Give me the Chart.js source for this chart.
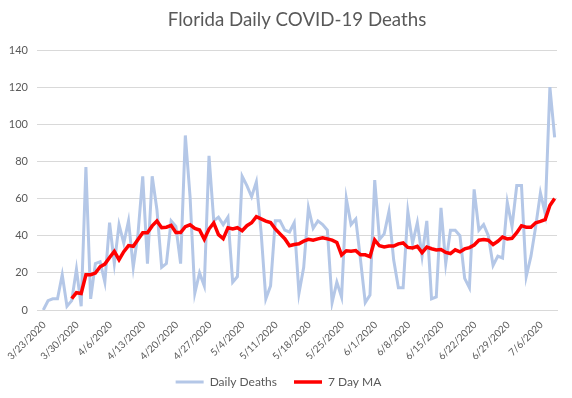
<!DOCTYPE html>
<html>
<head>
	<meta charset="UTF-8" />
	<script src="https://cdn.jsdelivr.net/npm/chart.js@4.4.0/dist/chart.umd.min.js"></script>
	<style>body { margin: 0; background: #fff; }</style>
</head>
<body>
	<canvas id="myChart" width="572" height="398"></canvas>
	<script>
// one tick label every 7 days, starting 3/23/2020
const tickLabels = ["3/23/2020", "3/30/2020", "4/6/2020", "4/13/2020", "4/20/2020", "4/27/2020", "5/4/2020", "5/11/2020",
	"5/18/2020", "5/25/2020", "6/1/2020", "6/8/2020", "6/15/2020", "6/22/2020", "6/29/2020", "7/6/2020"];

// daily values, 3/23/2020 .. 7/9/2020
const dailyDeaths = [0, 5, 6, 6, 19, 2, 5, 22, 2, 77, 6, 25, 26, 15, 47, 25, 46, 36, 48, 23, 41, 72, 25, 72, 54, 23, 25, 48,
	45, 25, 94, 61, 9, 20, 13, 83, 48, 50, 46, 50, 15, 18, 72, 67, 61, 69, 42, 6, 13, 48, 48, 43, 42, 47, 9, 23, 55, 44,
	48, 46, 43, 4, 15, 7, 60, 46, 49, 27, 4, 8, 70, 38, 41, 53, 27, 12, 12, 53, 36, 47, 29, 48, 6, 7, 55, 25, 43, 43,
	40, 17, 12, 65, 43, 46, 40, 24, 29, 28, 58, 45, 67, 67, 18, 29, 45, 63, 52, 120, 93];

const movingAvg = [null, null, null, null, null, null, 6.1, 9.3, 8.9, 19.0, 19.0, 19.9, 23.3, 24.7, 28.3, 31.6, 27.1, 31.4,
	34.7, 34.3, 38.0, 41.6, 41.6, 45.3, 47.9, 44.3, 44.6, 45.6, 41.7, 41.7, 44.9, 45.9, 43.9, 43.1, 38.1, 43.6, 46.9, 40.6,
	38.4, 44.3, 43.6, 44.3, 42.7, 45.4, 47.0, 50.3, 49.1, 47.9, 47.1, 43.7, 41.0, 38.4, 34.6, 35.3, 35.7, 37.1, 38.1, 37.6,
	38.3, 38.9, 38.3, 37.6, 36.4, 29.6, 31.9, 31.6, 32.0, 29.7, 29.7, 28.7, 37.7, 34.6, 33.9, 34.4, 34.4, 35.6, 36.1, 33.7,
	33.4, 34.3, 30.9, 33.9, 33.0, 32.3, 32.6, 31.0, 30.4, 32.4, 31.3, 32.9, 33.6, 35.0, 37.6, 38.0, 37.6, 35.3, 37.0, 39.3,
	38.3, 38.6, 41.6, 45.4, 44.6, 44.6, 47.0, 47.7, 48.7, 56.3, 60.0];

const yTicks = [0, 20, 40, 60, 80, 100, 120, 140];

const textColor = "#595959";
const gridColor = "#d9d9d9";
const fontFamily = "Lato, 'Open Sans', sans-serif";

const chart = new Chart(document.getElementById("myChart").getContext("2d"), {
	type: "line",
	data: {
		datasets: [
			{
				label: "Daily Deaths",
				data: dailyDeaths.map((v, i) => ({ x: i, y: v })),
				borderColor: "#b4c7e7",
				borderWidth: 3,
				pointRadius: 0,
				pointStyle: "line",
				pointBorderColor: "#b4c7e7",
				pointBorderWidth: 3,
				tension: 0,
				order: 2
			},
			{
				label: "7 Day MA",
				data: movingAvg.map((v, i) => ({ x: i, y: v })),
				borderColor: "#ff0000",
				borderWidth: 3.5,
				pointRadius: 0,
				pointStyle: "line",
				pointBorderColor: "#ff0000",
				pointBorderWidth: 3.5,
				tension: 0,
				order: 1
			}
		]
	},
	options: {
		responsive: false,
		animation: false,
		layout: { padding: { left: 0, right: 15, top: 0, bottom: 0 } },
		scales: {
			x: {
				type: "linear",
				min: -1.33,
				max: 108.5,
				grid: { display: false },
				border: { display: true, color: gridColor, width: 1 },
				ticks: {
					stepSize: 7,
					includeBounds: false,
					autoSkip: false,
					maxRotation: 45,
					minRotation: 45,
					padding: 1,
					labelOffset: 1,
					color: textColor,
					font: { family: fontFamily, size: 10 },
					callback: (value) => tickLabels[value / 7] || ""
				},
				afterFit: (scale) => { scale.height = 49; }
			},
			y: {
				min: 0,
				max: 140,
				grid: { color: gridColor, lineWidth: 1, drawTicks: false },
				border: { display: false },
				afterBuildTicks: (scale) => { scale.ticks = yTicks.map(v => ({ value: v })); },
				ticks: {
					padding: 9,
					color: textColor,
					font: { family: fontFamily, size: 11 }
				},
				afterFit: (scale) => { scale.width = 37; }
			}
		},
		plugins: {
			title: {
				display: true,
				fullSize: false,
				text: "Florida Daily COVID-19 Deaths",
				color: textColor,
				font: { family: fontFamily, size: 18.7, weight: "normal" },
				padding: { top: 9, bottom: 18.6 }
			},
			legend: {
				display: true,
				position: "bottom",
				labels: {
					usePointStyle: true,
					pointStyleWidth: 28,
					padding: 17,
					color: textColor,
					font: { family: fontFamily, size: 12 },
					sort: (a, b) => a.datasetIndex - b.datasetIndex
				}
			},
			tooltip: { enabled: false }
		}
	}
});
	</script>
</body>
</html>
